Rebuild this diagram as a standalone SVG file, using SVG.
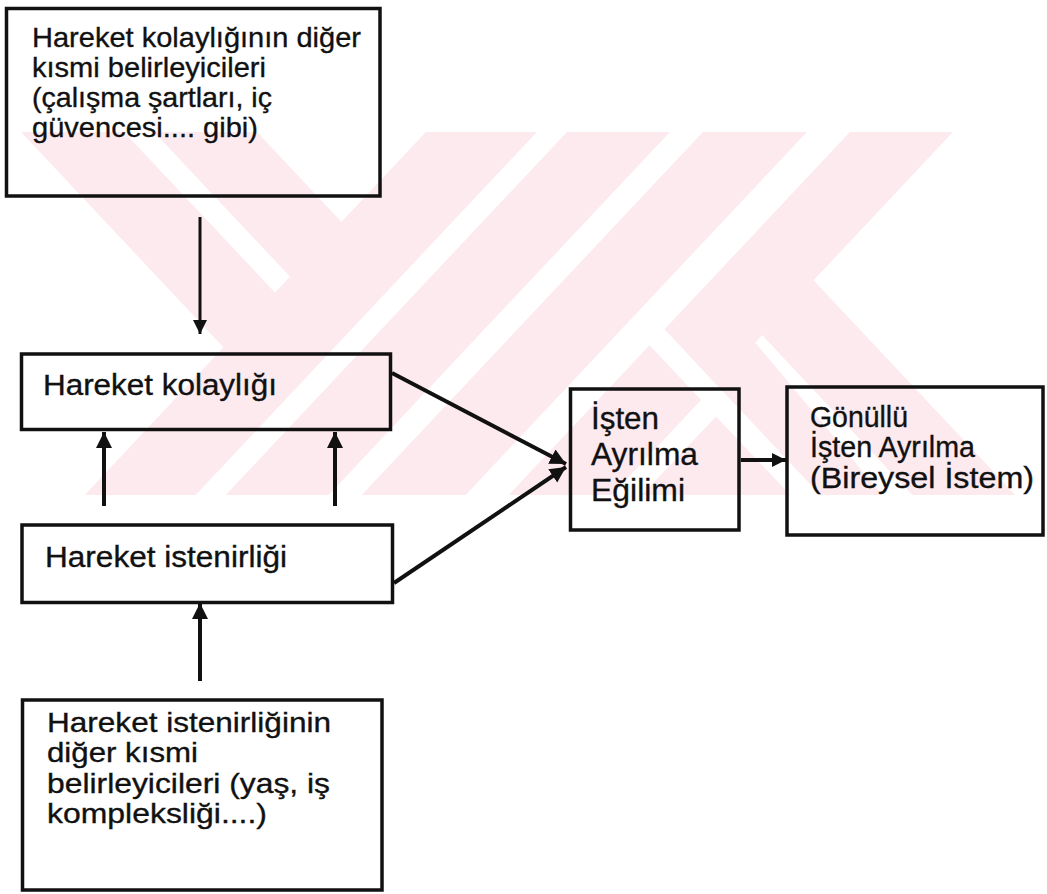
<svg xmlns="http://www.w3.org/2000/svg" width="1047" height="894" viewBox="0 0 1047 894">
  <style>
    .box { fill: none; stroke: #111; stroke-width: 3.5; }
    .lbl { font-family: "Liberation Sans", Arial, sans-serif; fill: #111; stroke: #111; stroke-width: 0.35; }
    .fa { font-size: 28.5px; }
    .fb { font-size: 29.5px; }
    .fc { font-size: 32px; }
    .fd { font-size: 29px; }
    .wire { stroke: #111; fill: none; }
    .mark { fill: #fdeaee; }
  </style>
  <defs>
    <clipPath id="band">
      <rect x="0" y="132" width="1047" height="363"/>
    </clipPath>
    <marker id="headS" markerUnits="userSpaceOnUse" markerWidth="16" markerHeight="16" refX="14" refY="7" orient="auto">
      <path d="M0,0 L14,7 L0,14 z" fill="#111"/>
    </marker>
    <marker id="headL" markerUnits="userSpaceOnUse" markerWidth="20" markerHeight="20" refX="16" refY="8" orient="auto">
      <path d="M0,0 L16,8 L0,16 z" fill="#111"/>
    </marker>
  </defs>

  <!-- background emblem, light diagonal bands -->
  <g id="emblem" clip-path="url(#band)">
    <!-- left arm -->
    <polygon class="mark" points="154,132 257,132 366.5,248.4 315,303.2"/>
    <polygon class="mark" points="21,132 124,132 300,319 248.5,374"/>
    <!-- long rising bands -->
    <polygon class="mark" points="425.9,132 536.9,132 195.7,495 84.7,495"/>
    <polygon class="mark" points="566.9,132 669.9,132 328.7,495 225.7,495"/>
    <polygon class="mark" points="702.9,132 806.9,132 465.7,495 361.7,495"/>
    <!-- fourth rising band, cut by the falling gap -->
    <polygon class="mark" points="849.9,132 952.9,132 716,384.3 664.5,329.3"/>
    <polygon class="mark" points="649.5,345.2 701,400 611.7,495 508.7,495"/>
    <!-- falling legs -->
    <polygon class="mark" points="795,260.6 1015.3,495 912.3,495 743.5,315.4"/>
    <polygon class="mark" points="728.5,310.4 882.3,495 820.3,495 697.5,364.4"/>
    <!-- inner chevron -->
    <polygon class="mark" points="716,416.5 790.3,495 641.7,495"/>
  </g>

  <!-- connectors -->
  <g id="connectors">
    <line class="wire" x1="200" y1="217" x2="200" y2="334" stroke-width="3" marker-end="url(#headS)"/>
    <line class="wire" x1="104" y1="506" x2="104" y2="432" stroke-width="4" marker-end="url(#headL)"/>
    <line class="wire" x1="335" y1="506" x2="335" y2="432" stroke-width="4" marker-end="url(#headL)"/>
    <line class="wire" x1="200" y1="681" x2="200" y2="603" stroke-width="4" marker-end="url(#headL)"/>
    <line class="wire" x1="392" y1="373" x2="566" y2="464" stroke-width="4" marker-end="url(#headL)"/>
    <line class="wire" x1="394" y1="583" x2="566" y2="467" stroke-width="4" marker-end="url(#headL)"/>
    <line class="wire" x1="741" y1="460" x2="786" y2="460" stroke-width="4" marker-end="url(#headS)"/>
  </g>

  <g id="node-kolaylik-belirleyici">
    <rect class="box" x="6.5" y="8.5" width="373.5" height="187.5"/>
    <text class="lbl fa" x="32" y="47" textLength="329" lengthAdjust="spacingAndGlyphs">Hareket kolaylığının diğer</text>
    <text class="lbl fa" x="32" y="77" textLength="234" lengthAdjust="spacingAndGlyphs">kısmi belirleyicileri</text>
    <text class="lbl fa" x="32" y="107" textLength="240" lengthAdjust="spacingAndGlyphs">(çalışma şartları, iç</text>
    <text class="lbl fa" x="32" y="137" textLength="226" lengthAdjust="spacingAndGlyphs">güvencesi.... gibi)</text>
  </g>

  <g id="node-kolaylik">
    <rect class="box" x="21.5" y="354" width="369" height="75.5" stroke-width="4"/>
    <text class="lbl fb" x="43" y="395" textLength="234" lengthAdjust="spacingAndGlyphs">Hareket kolaylığı</text>
  </g>

  <g id="node-istenirlik">
    <rect class="box" x="22" y="525" width="370.5" height="77.5"/>
    <text class="lbl fb" x="45" y="567" textLength="242" lengthAdjust="spacingAndGlyphs">Hareket istenirliği</text>
  </g>

  <g id="node-istenirlik-belirleyici">
    <rect class="box" x="22.5" y="700" width="359.5" height="190"/>
    <text class="lbl fa" x="47" y="732" textLength="284" lengthAdjust="spacingAndGlyphs">Hareket istenirliğinin</text>
    <text class="lbl fa" x="47" y="762" textLength="151" lengthAdjust="spacingAndGlyphs">diğer kısmi</text>
    <text class="lbl fa" x="47" y="793" textLength="283" lengthAdjust="spacingAndGlyphs">belirleyicileri (yaş, iş</text>
    <text class="lbl fa" x="47" y="823" textLength="220" lengthAdjust="spacingAndGlyphs">kompleksliği....)</text>
  </g>

  <g id="node-egilim">
    <rect class="box" x="570.5" y="389" width="168.5" height="141"/>
    <text class="lbl fc" x="591" y="429" textLength="68" lengthAdjust="spacingAndGlyphs">İşten</text>
    <text class="lbl fc" x="591" y="465" textLength="107" lengthAdjust="spacingAndGlyphs">Ayrılma</text>
    <text class="lbl fc" x="591" y="501" textLength="94" lengthAdjust="spacingAndGlyphs">Eğilimi</text>
  </g>

  <g id="node-gonullu">
    <rect class="box" x="787" y="387" width="256" height="148"/>
    <text class="lbl fd" x="810" y="427" textLength="98" lengthAdjust="spacingAndGlyphs">Gönüllü</text>
    <text class="lbl fd" x="810" y="457" textLength="165" lengthAdjust="spacingAndGlyphs">İşten Ayrılma</text>
    <text class="lbl fd" x="810" y="488" textLength="224" lengthAdjust="spacingAndGlyphs">(Bireysel İstem)</text>
  </g>
</svg>
